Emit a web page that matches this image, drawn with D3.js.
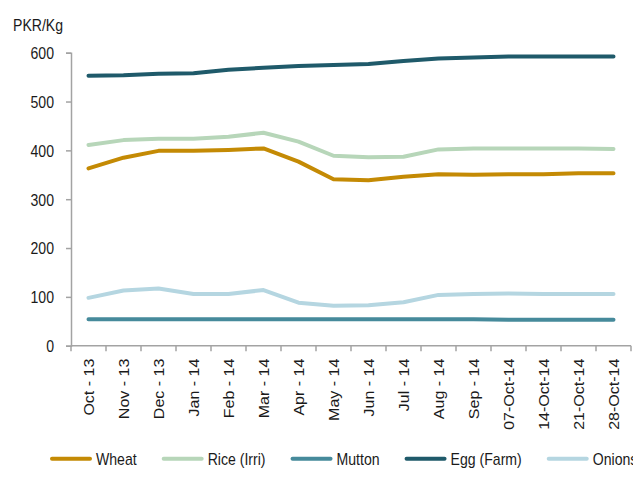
<!DOCTYPE html>
<html>
<head>
<meta charset="utf-8">
<script src="https://cdn.jsdelivr.net/npm/d3@7/dist/d3.min.js"></script>
<style>
  html, body { margin: 0; padding: 0; background: #fff; }
  svg text { font-family: "Liberation Sans", Arial, sans-serif; fill: #1a1a1a; }
</style>
</head>
<body>
<svg id="chart" width="633" height="499"></svg>
<script>
// Monthly / weekly retail prices (PKR per kg)
const categories = ["Oct - 13", "Nov - 13", "Dec - 13", "Jan - 14", "Feb - 14", "Mar - 14",
  "Apr - 14", "May - 14", "Jun - 14", "Jul - 14", "Aug - 14", "Sep - 14",
  "07-Oct-14", "14-Oct-14", "21-Oct-14", "28-Oct-14"];

const wheat  = [363, 385, 399, 399, 401, 404, 377, 341, 339, 346, 351, 350, 351, 351, 353, 353];
const rice   = [411, 421, 424, 424, 428, 436, 418, 389, 386, 387, 402, 404, 404, 404, 404, 403];
const mutton = [54, 54, 54, 54, 54, 54, 54, 54, 54, 54, 54, 54, 53, 53, 53, 53];
const egg    = [553, 554, 557, 558, 565, 569, 573, 575, 577, 583, 588, 590, 592, 592, 592, 592];
const onions = [98, 113, 117, 106, 106, 114, 88, 82, 83, 89, 104, 106, 107, 106, 106, 106];

const yTicks = [0, 100, 200, 300, 400, 500, 600];
const yUnit = "PKR/Kg";

const seriesNames  = ["Wheat", "Rice (Irri)", "Mutton", "Egg (Farm)", "Onions"];
const seriesValues = [wheat, rice, mutton, egg, onions];
const seriesColors = ["#C48A04", "#B7D6B9", "#468A9B", "#1F5A6A", "#B5D6E1"];

const svg = d3.select("#chart");
const squeeze = 0.88; // narrow text rendering

const x = d3.scaleBand().domain(categories).range([71, 631]);
const y = d3.scaleLinear().domain([0, 600]).range([345.7, 52.7]);

const axisColor = "#A3A3A3";

// Y axis
const yAxis = svg.append("g").attr("transform", "translate(71,0)")
  .call(d3.axisLeft(y).tickValues(yTicks).tickSize(5).tickPadding(0).tickFormat(d3.format("d")));
yAxis.select(".domain").attr("stroke", axisColor).attr("stroke-width", 1.5);
yAxis.selectAll(".tick line").attr("stroke", axisColor).attr("stroke-width", 1.5);
yAxis.selectAll(".tick text")
  .attr("x", null).attr("dy", null)
  .attr("text-anchor", "end")
  .attr("dominant-baseline", "central")
  .style("font-size", "16px")
  .attr("transform", "translate(-17,0) scale(" + squeeze + ",1)");

// X axis with ticks between categories
const xAxis = svg.append("g").attr("transform", "translate(0,345.7)");
xAxis.append("line")
  .attr("x1", 71).attr("x2", 631).attr("y1", 0).attr("y2", 0)
  .attr("stroke", axisColor).attr("stroke-width", 1.5);
const bounds = categories.map(c => x(c)).concat([x.range()[1]]);
xAxis.selectAll("line.tick").data(bounds).join("line")
  .attr("class", "tick")
  .attr("x1", d => d).attr("x2", d => d)
  .attr("y1", 0).attr("y2", 5.5)
  .attr("stroke", axisColor).attr("stroke-width", 1.5);
xAxis.selectAll("text").data(categories).join("text")
  .attr("text-anchor", "end")
  .attr("dominant-baseline", "central")
  .style("font-size", "16px")
  .attr("transform", d => "translate(" + (x(d) + x.bandwidth() / 2) + ",13) scale(" + squeeze + ",1) rotate(-90)")
  .text(d => d);

// Unit label
svg.append("text")
  .attr("transform", "translate(13,31) scale(" + squeeze + ",1)")
  .style("font-size", "16px")
  .text(yUnit);

// Series lines
const line = d3.line()
  .x((d, i) => x(categories[i]) + x.bandwidth() / 2)
  .y(d => y(d));

svg.append("g").selectAll("path").data(seriesValues).join("path")
  .attr("d", d => line(d))
  .attr("fill", "none")
  .attr("stroke", (d, i) => seriesColors[i])
  .attr("stroke-width", 4)
  .attr("stroke-linejoin", "round")
  .attr("stroke-linecap", "round");

// Legend
const legend = svg.append("g").attr("transform", "translate(0,458.7)");
let lx = 50;
seriesNames.forEach((name, i) => {
  legend.append("line")
    .attr("x1", lx + 2).attr("x2", lx + 40).attr("y1", 0).attr("y2", 0)
    .attr("stroke", seriesColors[i]).attr("stroke-width", 4)
    .attr("stroke-linecap", "round");
  const t = legend.append("text")
    .attr("dominant-baseline", "central")
    .style("font-size", "16px")
    .attr("transform", "translate(" + (lx + 46) + ",0) scale(" + squeeze + ",1)")
    .text(name);
  const w = t.node().getComputedTextLength() * squeeze;
  lx = lx + 46 + w + 25;
});
</script>
</body>
</html>
